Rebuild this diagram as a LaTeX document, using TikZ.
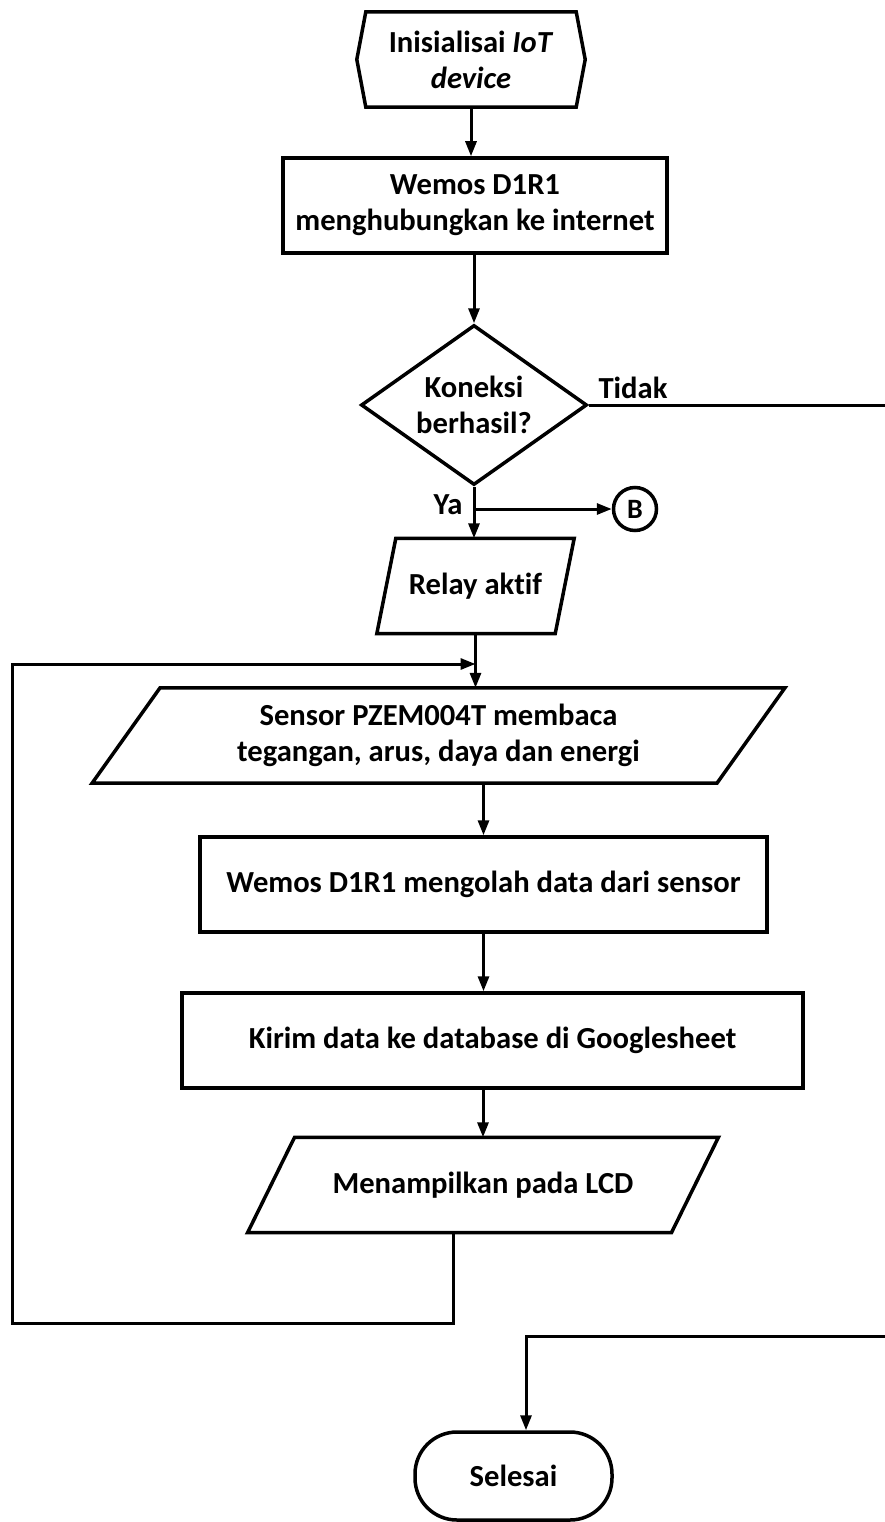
\documentclass[tikz,border=0pt]{standalone}
\usepackage{fontspec}
\setmainfont{Carlito}[Ligatures=NoCommon]
\usetikzlibrary{shapes.geometric,arrows.meta,calc}
% jajar genjang di sekitar node #1, tiap sisi digeser #2
\newcommand{\miring}[2]{%
  \draw[tepi] ([xshift=#2]#1.north west) -- ([xshift=#2]#1.north east)
     -- ([xshift=-#2]#1.south east) -- ([xshift=-#2]#1.south west) -- cycle;}

\begin{document}
\begin{tikzpicture}[x=1pt,y=-1pt,
    font=\fontsize{30.6}{36}\selectfont\bfseries,
    tepi/.style={line width=3.5pt,line join=miter},
    proses/.style={tepi,draw,rectangle,align=center,inner sep=0pt,minimum height=95pt},
    datain/.style={rectangle,align=center,inner sep=0pt,minimum height=95pt},
    keputusan/.style={tepi,draw,diamond,aspect=1.41,align=center,inner sep=0pt},
    garis/.style={line width=3pt},
    panah/.style={garis,-{Triangle[length=15pt,width=11pt]}}]
  \useasboundingbox (0,0) rectangle (885,1522);
  \clip (0,0) rectangle (885,1522);

  % mulai
  \node (init) at (471,59.5) [align=center,inner sep=0pt,minimum width=210pt,minimum height=95pt] {Inisialisai \textit{IoT}\\\textit{device}};
  \draw[tepi] (init.north west) -- (init.north east) -- ([xshift=9pt]init.east)
     -- (init.south east) -- (init.south west) -- ([xshift=-9pt]init.west) -- cycle;
  % wemos ke internet
  \node (konek) at (475,205.5) [proses,minimum width=384pt] {Wemos D1R1\\menghubungkan ke internet};
  % cek koneksi
  \node (cek) at (474,405) [keputusan,minimum width=226pt,minimum height=160pt] {Koneksi\\berhasil?};
  \node (tidak) at (633,388) {Tidak};
  \node (ya) at (448,505) {Ya};
  \node (konB) at (635,509) [tepi,draw,circle,minimum size=43pt,inner sep=0pt,font=\fontsize{28}{30}\selectfont\bfseries] {B};
  % relay
  \node (relay) at (475.5,586) [datain,minimum width=178pt] {Relay aktif};
  \miring{relay}{9.5pt}
  % sensor
  \node (sensor) at (438.5,735.5) [datain,minimum width=624.5pt] {Sensor PZEM004T membaca\\tegangan, arus, daya dan energi};
  \miring{sensor}{34pt}
  % olah data
  \node (olah) at (483.5,884.5) [proses,minimum width=567pt] {Wemos D1R1 mengolah data dari sensor};
  % kirim
  \node (kirim) at (492.5,1040.5) [proses,minimum width=621pt] {Kirim data ke database di Googlesheet};
  % lcd
  \node (lcd) at (483,1185) [datain,minimum width=423.5pt] {Menampilkan pada LCD};
  \miring{lcd}{23.5pt}
  % selesai
  \node (selesai) at (513.5,1476) [tepi,draw,rectangle,rounded corners=42pt,minimum width=197pt,minimum height=88pt] {Selesai};

  % titik bantu
  \coordinate (kanan) at (895,1336);
  \coordinate (turun) at (526,1336);
  \coordinate (lpA) at (453,1323);
  \coordinate (lpB) at (12,664);
  \coordinate (cabang) at (474,509);

  % alur
  \draw[panah] (init.south) -- (init.south |- konek.north);
  \draw[panah] (konek.south -| cek.north) -- (cek.north);
  \draw[panah] (cek.south) -- (cek.south |- relay.north);
  \draw[panah] (cabang) -- (konB.west);
  \draw[panah] (relay.south) -- (relay.south |- sensor.north);
  \draw[panah] (olah.north |- sensor.south) -- (olah.north);
  \draw[panah] (olah.south) -- (olah.south |- kirim.north);
  \draw[panah] (lcd.north |- kirim.south) -- (lcd.north);
  % ulang
  \draw[panah] (lcd.south -| lpA) -- (lpA) -| (lpB) -- (lpB -| relay.center);
  % tidak
  \draw[panah] (cek.east) -| (kanan) -- (turun) -- (turun |- selesai.north);
\end{tikzpicture}
\end{document}
